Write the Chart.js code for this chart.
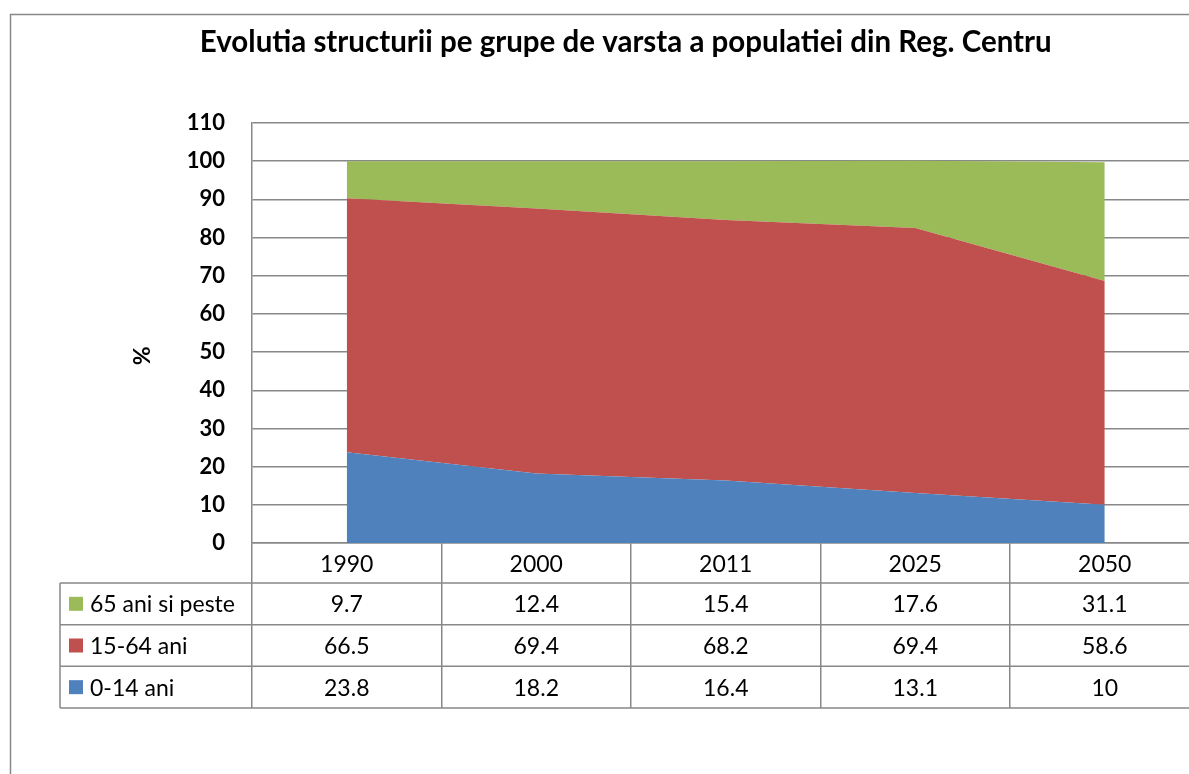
<!DOCTYPE html>
<html>
<head>
<meta charset="utf-8">
<script src="https://cdn.jsdelivr.net/npm/chart.js@4"></script>
<style>
  body { margin: 0; overflow: hidden; background: #fff; }
  #chartBox { position: absolute; left: 0; top: 0; }
</style>
</head>
<body>
<div id="chartBox"><canvas id="popChart" width="1210" height="774"></canvas></div>
<script>
// date: structura pe grupe de varsta (%)
const years = ['1990', '2000', '2011', '2025', '2050'];
const age0_14 = [23.8, 18.2, 16.4, 13.1, 10];
const age15_64 = [66.5, 69.4, 68.2, 69.4, 58.6];
const age65plus = [9.7, 12.4, 15.4, 17.6, 31.1];
const yTicks = [0, 10, 20, 30, 40, 50, 60, 70, 80, 90, 100, 110];

const gridColor = '#888888';
const FONT = 'Lato, "Liberation Sans", sans-serif';

// randurile tabelului de date (ordinea din imagine)
const tableRows = [
    { label: '65 ani si peste', color: '#9BBB59', values: age65plus },
    { label: '15-64 ani', color: '#C0504D', values: age15_64 },
    { label: '0-14 ani', color: '#4F81BD', values: age0_14 }
];

// chenarul graficului, tabelul de date si eticheta "%"
const tablePlugin = {
    id: 'dataTable',
    beforeDraw(chart) {
        const c = chart.ctx;
        c.save();
        c.strokeStyle = gridColor;
        c.lineWidth = 1.5;
        c.strokeRect(10.5, 14.5, 1400, 900);
        c.restore();
    },
    afterDraw(chart) {
        const c = chart.ctx;
        const xs = chart.scales.x;
        const ys = chart.scales.y;
        const left = 60;
        const right = chart.chartArea.right;
        const rowTop = xs.top + 40;
        const rowH = (xs.bottom - rowTop) / tableRows.length;

        c.save();
        c.strokeStyle = gridColor;
        c.lineWidth = 1.5;
        c.beginPath();
        for (let i = 0; i <= tableRows.length; i++) {
            const y = rowTop + i * rowH;
            c.moveTo(left, y);
            c.lineTo(right, y);
        }
        c.moveTo(left, rowTop);
        c.lineTo(left, xs.bottom);
        c.stroke();

        c.font = '23px ' + FONT;
        c.fillStyle = '#000';
        c.textBaseline = 'middle';
        tableRows.forEach((row, r) => {
            const cy = rowTop + r * rowH + rowH / 2;
            c.fillStyle = row.color;
            c.fillRect(69, cy - 7, 14, 14);
            c.fillStyle = '#000';
            c.textAlign = 'left';
            c.fillText(row.label, 90, cy + 1);
            c.textAlign = 'center';
            row.values.forEach((v, i) => {
                c.fillText(String(v), xs.getPixelForValue(i), cy + 1);
            });
        });

        // titlul axei Y
        c.translate(143, ys.getPixelForValue(49));
        c.rotate(-Math.PI / 2);
        c.font = 'bold 23px ' + FONT;
        c.textAlign = 'center';
        c.fillText('%', 0, 0);
        c.restore();
    }
};

const chart = new Chart(document.getElementById('popChart').getContext('2d'), {
    type: 'line',
    data: {
        labels: years,
        datasets: [
            { label: '0-14 ani', data: age0_14, backgroundColor: '#4F81BD', fill: 'origin' },
            { label: '15-64 ani', data: age15_64, backgroundColor: '#C0504D', fill: '-1' },
            { label: '65 ani si peste', data: age65plus, backgroundColor: '#9BBB59', fill: '-1' }
        ]
    },
    options: {
        responsive: false,
        animation: false,
        devicePixelRatio: 1,
        elements: {
            line: { borderWidth: 0, tension: 0, borderColor: 'rgba(0,0,0,0)' },
            point: { radius: 0, hoverRadius: 0 }
        },
        layout: { padding: { left: 52, right: 10.5, top: 14, bottom: 66 } },
        plugins: {
            legend: { display: false },
            tooltip: { enabled: false },
            title: {
                display: true,
                text: 'Evolutia structurii pe grupe de varsta a populatiei din Reg. Centru',
                color: '#000',
                font: { family: FONT, size: 29.5, weight: 'bold', lineHeight: 1.2 },
                padding: { top: 10.3, bottom: 63.3 }
            }
        },
        scales: {
            x: {
                offset: true,
                grid: {
                    offset: true,
                    drawOnChartArea: false,
                    drawTicks: true,
                    tickLength: 165,
                    color: gridColor,
                    lineWidth: 1.5
                },
                border: { color: gridColor, width: 1.5 },
                ticks: {
                    color: '#000',
                    font: { family: FONT, size: 23 },
                    padding: -157,
                    maxRotation: 0
                },
                afterFit(scale) { scale.height = 165; }
            },
            y: {
                stacked: true,
                min: 0,
                max: 110,
                afterBuildTicks(scale) { scale.ticks = yTicks.map(v => ({ value: v })); },
                grid: { color: gridColor, lineWidth: 1.5, drawTicks: false },
                border: { color: gridColor, width: 1.5 },
                ticks: {
                    color: '#000',
                    font: { family: FONT, size: 22, weight: 'bold' },
                    padding: 27
                },
                afterFit(scale) { scale.width = 200; }
            }
        }
    },
    plugins: [tablePlugin]
});
</script>
</body>
</html>
